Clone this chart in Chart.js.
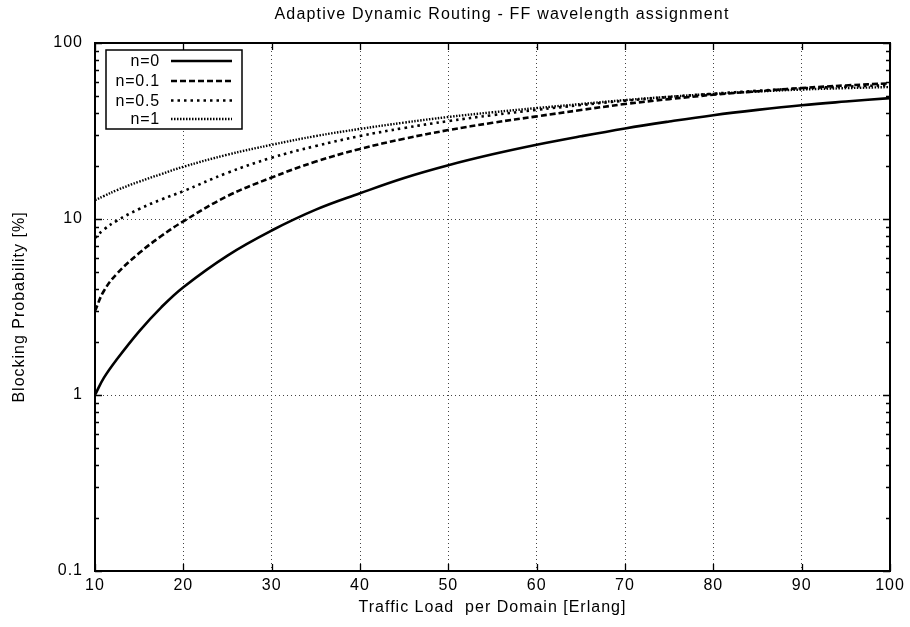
<!DOCTYPE html>
<html>
<head>
<meta charset="utf-8">
<script src="https://cdn.jsdelivr.net/npm/chart.js@4.4.1/dist/chart.umd.min.js"></script>
<style>
html,body{margin:0;padding:0;background:#fff;}
#wrap{width:910px;height:627px;position:relative;}
</style>
</head>
<body>
<div id="wrap"><canvas id="c" width="910" height="627"></canvas></div>
<script>
const chartTitle = 'Adaptive Dynamic Routing - FF wavelength assignment';
const xTitle = 'Traffic Load  per Domain [Erlang]';
const yTitle = 'Blocking Probability [%]';
const seriesLabels = ['n=0', 'n=0.1', 'n=0.5', 'n=1'];
const loads = [10, 11, 12.5, 15, 17.5, 20, 25, 30, 35, 40, 45, 50, 55, 60, 65, 70, 75, 80, 85, 90, 95, 100];
const n0   = [1.0, 1.25, 1.6, 2.3, 3.15, 4.1, 6.2, 8.6, 11.3, 14.0, 17.1, 20.2, 23.3, 26.4, 29.5, 32.7, 35.8, 38.9, 41.7, 44.3, 46.5, 48.6];
const n01  = [3.0, 3.9, 4.9, 6.4, 8.0, 9.7, 13.5, 17.2, 21.2, 25.0, 28.6, 32.0, 35.2, 38.3, 41.6, 45.0, 48.0, 50.8, 53.2, 55.5, 57.4, 59.0];
const n05  = [7.8, 8.7, 9.8, 11.4, 12.9, 14.4, 18.3, 22.3, 26.0, 29.6, 32.9, 36.0, 38.9, 41.7, 44.4, 47.0, 49.3, 51.5, 53.5, 55.2, 56.5, 57.6];
const n1   = [12.8, 13.5, 14.6, 16.3, 18.0, 19.8, 23.2, 26.4, 29.6, 32.5, 35.3, 38.0, 40.4, 42.7, 45.0, 47.4, 49.5, 51.4, 53.0, 54.4, 55.4, 56.2];
const xTicks = [10, 20, 30, 40, 50, 60, 70, 80, 90, 100];
const yTicks = [0.1, 1, 10, 100];

const FONT = 'Liberation Sans, Arial, Helvetica, sans-serif';
const SPACING = '1px';

function pts(arr) { return loads.map((x, i) => ({x: x, y: arr[i]})); }

const styles = [
  {borderDash: [], borderWidth: 2.6},
  {borderDash: [6, 3], borderWidth: 2.6},
  {borderDash: [2.5, 4], borderWidth: 2.6},
  {borderDash: [1.5, 1.5], borderWidth: 2.4}
];
const seriesData = [n0, n01, n05, n1];

const datasets = seriesData.map((arr, i) => ({
  label: seriesLabels[i],
  data: pts(arr),
  borderColor: '#000',
  backgroundColor: '#000',
  borderWidth: styles[i].borderWidth,
  borderDash: styles[i].borderDash,
  pointRadius: 0,
  fill: false,
  tension: 0.4,
  order: 3 - i
}));

const spacingPlugin = {
  id: 'spacing',
  beforeUpdate(chart) { chart.ctx.letterSpacing = SPACING; },
  beforeDraw(chart) { chart.ctx.letterSpacing = SPACING; }
};

const decorPlugin = {
  id: 'decor',
  afterDraw(chart) {
    const ctx = chart.ctx;
    const a = chart.chartArea;
    const xs = chart.scales.x, ys = chart.scales.y;
    ctx.save();
    ctx.strokeStyle = '#000';
    ctx.setLineDash([]);
    // tick marks
    ctx.lineWidth = 1.3;
    ctx.beginPath();
    xTicks.forEach(v => {
      const px = Math.round(xs.getPixelForValue(v)) + 0.5;
      ctx.moveTo(px, a.bottom); ctx.lineTo(px, a.bottom - 7);
      ctx.moveTo(px, a.top); ctx.lineTo(px, a.top + 7);
    });
    for (let d = 0.1; d < 100; d *= 10) {
      for (let m = 1; m <= 10; m++) {
        const v = d * m;
        const py = Math.round(ys.getPixelForValue(v)) + 0.5;
        const len = (m === 1 || m === 10) ? 7 : 4;
        ctx.moveTo(a.left, py); ctx.lineTo(a.left + len, py);
        ctx.moveTo(a.right, py); ctx.lineTo(a.right - len, py);
      }
    }
    ctx.stroke();
    // frame
    ctx.lineWidth = 2;
    ctx.strokeRect(a.left, a.top, a.right - a.left, a.bottom - a.top);
    // title
    ctx.fillStyle = '#000';
    ctx.letterSpacing = '1.2px';
    ctx.font = '16px ' + FONT;
    ctx.textAlign = 'center';
    ctx.textBaseline = 'middle';
    ctx.fillText(chartTitle, 502, 15);
    // legend
    const bx = 106, by = 50, bw = 136, bh = 79;
    ctx.fillStyle = '#fff';
    ctx.fillRect(bx, by, bw, bh);
    ctx.lineWidth = 1.5;
    ctx.strokeRect(bx, by, bw, bh);
    ctx.letterSpacing = '0.8px';
    ctx.font = '16px ' + FONT;
    ctx.textAlign = 'right';
    const rows = [61, 81, 100.5, 119];
    chart.data.datasets.forEach((ds, i) => {
      ctx.fillStyle = '#000';
      ctx.fillText(ds.label, 160, rows[i] + 1);
      ctx.beginPath();
      ctx.setLineDash(ds.borderDash);
      ctx.lineWidth = ds.borderWidth;
      ctx.moveTo(171, rows[i]); ctx.lineTo(232, rows[i]);
      ctx.stroke();
      ctx.setLineDash([]);
    });
    ctx.restore();
  }
};

new Chart(document.getElementById('c'), {
  type: 'line',
  data: { datasets: datasets },
  plugins: [spacingPlugin, decorPlugin],
  options: {
    responsive: false,
    animation: false,
    devicePixelRatio: 1,
    layout: { padding: { top: 43, right: 20, left: 0, bottom: 0 } },
    plugins: { legend: { display: false }, title: { display: false }, tooltip: { enabled: false } },
    scales: {
      x: {
        type: 'linear',
        min: 10, max: 100,
        afterBuildTicks: s => { s.ticks = xTicks.map(v => ({value: v})); },
        afterFit: s => { s.height = 56; },
        ticks: { color: '#000', font: { size: 16, family: FONT }, padding: 5, maxRotation: 0, callback: v => String(v) },
        grid: { color: '#444', lineWidth: 1, drawTicks: false },
        border: { display: false, dash: [1, 3] },
        title: { display: true, text: xTitle, color: '#000', font: { size: 16, family: FONT }, padding: { top: 0, bottom: 10 } }
      },
      y: {
        type: 'logarithmic',
        min: 0.1, max: 100,
        afterBuildTicks: s => { s.ticks = yTicks.map(v => ({value: v})); },
        afterFit: s => { s.width = 95; },
        ticks: { color: '#000', font: { size: 16, family: FONT }, padding: 12, callback: v => String(v) },
        grid: { color: '#444', lineWidth: 1, drawTicks: false },
        border: { display: false, dash: [1, 3] },
        title: { display: true, text: yTitle, color: '#000', font: { size: 16, family: FONT }, padding: { top: 10, bottom: 0 } }
      }
    }
  }
});
</script>
</body>
</html>
